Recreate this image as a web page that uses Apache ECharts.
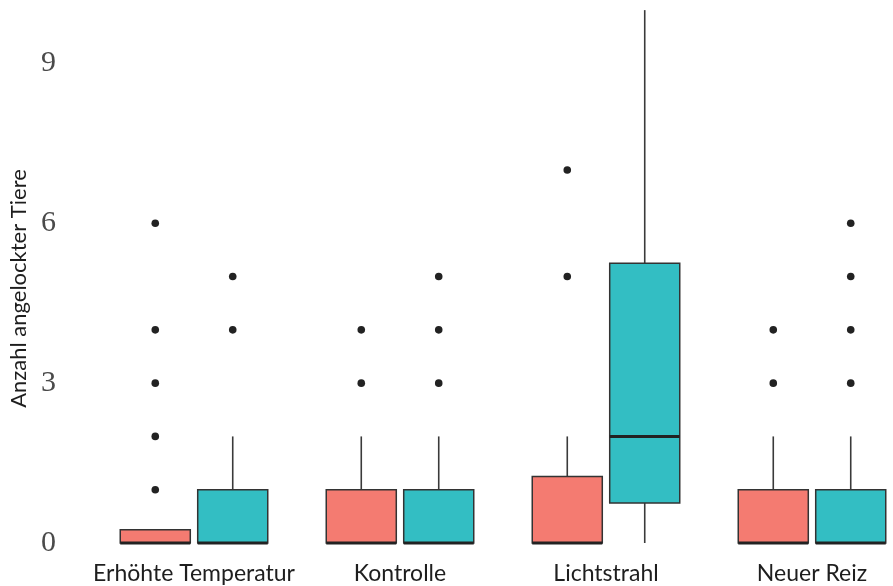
<!DOCTYPE html>
<html><head><meta charset="utf-8">
<script src="https://cdn.jsdelivr.net/npm/echarts@6/dist/echarts.min.js"></script>
<style>html,body{margin:0;padding:0;background:#fff;overflow:hidden}#c{width:915px;height:586px}</style>
</head><body><div id="c"></div>
<script>
const categories = ['Erhöhte Temperatur', 'Kontrolle', 'Lichtstrahl', 'Neuer Reiz'];
const yTicks = [0, 3, 6, 9];
// [min, q1, median, q3, max] per category
const boxesRed = [
  [0, 0, 0, 0.25, 0.25],
  [0, 0, 0, 1, 2],
  [0, 0, 0, 1.25, 2],
  [0, 0, 0, 1, 2]
];
const boxesTeal = [
  [0, 0, 0, 1, 2],
  [0, 0, 0, 1, 2],
  [0, 0.75, 2, 5.25, 10],
  [0, 0, 0, 1, 2]
];
const outliersRed = [
  [1, 2, 3, 4, 6],
  [3, 4],
  [5, 7],
  [3, 4]
];
const outliersTeal = [
  [4, 5],
  [3, 4, 5],
  [],
  [3, 4, 5, 6]
];
const colorRed = '#F47B71';
const colorTeal = '#33BEC3';

function boxData(boxes) {
  return boxes.map((b, i) => [i].concat(b));
}
function outData(outs) {
  const d = [];
  outs.forEach((vals, i) => vals.forEach(v => d.push([i, v])));
  return d;
}

function makeBoxRender(color, side) {
  return function (params, api) {
    const ci = api.value(0);
    const band = api.size([1, 0])[0];
    const off = side * band * 0.188;
    const half = band * 0.17;
    const c = api.coord([ci, 0]);
    const x = c[0] + off;
    const yMin = api.coord([ci, api.value(1)])[1];
    const yQ1 = api.coord([ci, api.value(2)])[1];
    const yMed = api.coord([ci, api.value(3)])[1];
    const yQ3 = api.coord([ci, api.value(4)])[1];
    const yMax = api.coord([ci, api.value(5)])[1];
    const lineStyle = { stroke: '#3a3a3a', lineWidth: 1.6 };
    const children = [];
    if (yMax < yQ3) children.push({ type: 'line', shape: { x1: x, y1: yQ3, x2: x, y2: yMax }, style: lineStyle });
    if (yMin > yQ1) children.push({ type: 'line', shape: { x1: x, y1: yQ1, x2: x, y2: yMin }, style: lineStyle });
    children.push({ type: 'rect', shape: { x: x - half, y: yQ3, width: 2 * half, height: yQ1 - yQ3 },
      style: { fill: color, stroke: '#333', lineWidth: 1.5 } });
    children.push({ type: 'line', shape: { x1: x - half, y1: yMed, x2: x + half, y2: yMed },
      style: { stroke: '#222', lineWidth: 3 } });
    return { type: 'group', children: children };
  };
}
function makeOutRender(side) {
  return function (params, api) {
    const ci = api.value(0);
    const band = api.size([1, 0])[0];
    const off = side * band * 0.188;
    const c = api.coord([ci, api.value(1)]);
    return { type: 'circle', shape: { cx: c[0] + off, cy: c[1], r: 3.8 }, style: { fill: '#222' } };
  };
}

const chart = echarts.init(document.getElementById('c'), null, { renderer: 'canvas' });
chart.setOption({
  animation: false,
  backgroundColor: '#fff',
  grid: { left: 91, right: 0, top: 0, bottom: 43, containLabel: false },
  xAxis: {
    type: 'category', data: categories, boundaryGap: true,
    axisLine: { show: false }, axisTick: { show: false }, splitLine: { show: false },
    axisLabel: { interval: 0, margin: 19, fontFamily: 'Lato', fontSize: 23, color: '#1e1e1e' }
  },
  yAxis: {
    type: 'value', min: 0, max: 10.19, interval: 3,
    axisLine: { show: false }, axisTick: { show: false }, splitLine: { show: false },
    axisLabel: { showMaxLabel: false, margin: 35, fontFamily: 'Liberation Serif', fontSize: 30, color: '#4a4a4a',
      formatter: v => (yTicks.indexOf(v) >= 0 ? String(v) : '') },
    name: 'Anzahl angelockter Tiere', nameLocation: 'middle', nameGap: 57,
    nameTextStyle: { fontFamily: 'Lato', fontSize: 22, color: '#1e1e1e', padding: [0, 34, 0, 0] }
  },
  series: [
    { type: 'custom', renderItem: makeBoxRender(colorRed, -1), data: boxData(boxesRed), encode: { x: 0, y: [1, 2, 3, 4, 5] }, clip: false },
    { type: 'custom', renderItem: makeBoxRender(colorTeal, 1), data: boxData(boxesTeal), encode: { x: 0, y: [1, 2, 3, 4, 5] }, clip: false },
    { type: 'custom', renderItem: makeOutRender(-1), data: outData(outliersRed), encode: { x: 0, y: 1 } },
    { type: 'custom', renderItem: makeOutRender(1), data: outData(outliersTeal), encode: { x: 0, y: 1 } }
  ]
});
</script></body></html>
